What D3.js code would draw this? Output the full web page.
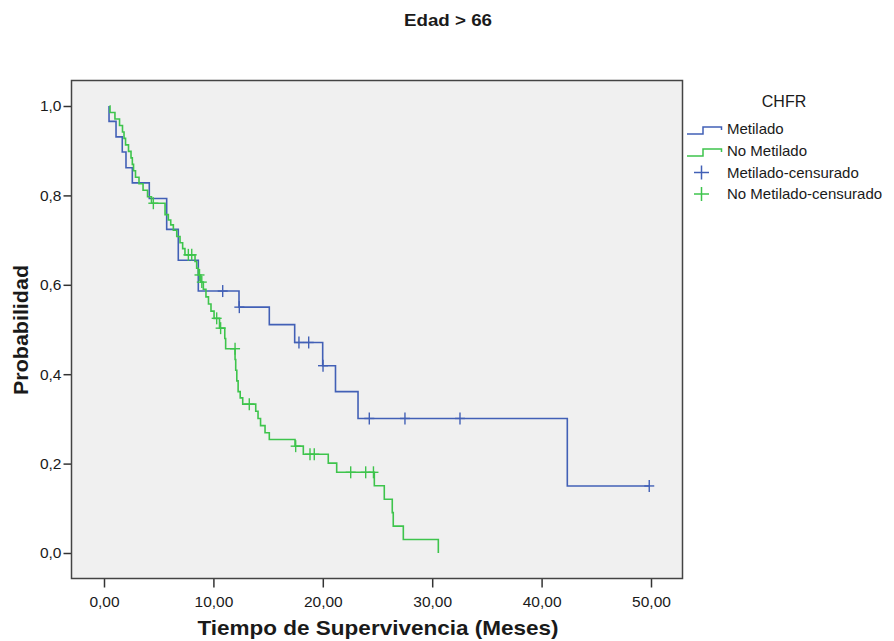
<!DOCTYPE html>
<html>
<head>
<meta charset="utf-8">
<script src="https://cdn.jsdelivr.net/npm/d3@7/dist/d3.min.js"></script>
<style>
  html, body { margin: 0; padding: 0; background: #ffffff; }
  svg { display: block; }
  text { font-family: "Liberation Sans", Arial, sans-serif; fill: #1a1a1a; }
</style>
</head>
<body>
<svg id="chart" width="894" height="641"></svg>
<script>
// ---------------- Data ----------------
const title = "Edad > 66";
const xLabel = "Tiempo de Supervivencia (Meses)";
const yLabel = "Probabilidad";
const legendTitle = "CHFR";
const groups = ["Metilado", "No Metilado"];
const legendLabels = ["Metilado", "No Metilado", "Metilado-censurado", "No Metilado-censurado"];

const xTicks = [0, 10, 20, 30, 40, 50];
const xTickLabels = ["0,00", "10,00", "20,00", "30,00", "40,00", "50,00"];
const yTicks = [0, 0.2, 0.4, 0.6, 0.8, 1.0];
const yTickLabels = ["0,0", "0,2", "0,4", "0,6", "0,8", "1,0"];

// Metilado: step times and survival after each step
const metStart = 0.46;
const metTimes = [0.46, 1.10, 1.67, 2.01, 2.59, 4.14, 5.73, 6.79, 8.62, 12.34, 15.11, 17.43, 19.99, 21.16, 23.22, 42.35];
const metSurv  = [0.9655, 0.931, 0.897, 0.862, 0.828, 0.793, 0.724, 0.655, 0.586, 0.550, 0.511, 0.471, 0.419, 0.361, 0.301, 0.150];
const metEnd = 49.84;
const metCensTimes = [10.85, 12.37, 17.82, 18.71, 20.02, 24.25, 27.51, 32.54, 49.84];
const metCensSurv  = [0.586, 0.550, 0.471, 0.471, 0.419, 0.301, 0.301, 0.301, 0.150];

// No Metilado
const noStart = 0.50;
const noTimes = [0.55, 1.00, 1.42, 1.69, 1.83, 1.97, 2.24, 2.47, 2.59, 2.70, 2.88, 3.20, 3.57, 3.98, 4.34,
                 5.58, 5.88, 6.10, 6.34, 6.65, 6.95, 7.19, 7.40,
                 8.32, 8.47, 8.62, 8.85, 9.08, 9.32, 9.55, 9.78, 10.06, 10.56,
                 11.04, 11.12, 11.98, 12.04, 12.14, 12.26, 12.45, 12.68,
                 13.87, 14.08, 14.31, 14.72, 15.11, 17.46, 18.22, 20.50, 21.27,
                 24.71, 25.62, 26.35, 26.44, 27.36, 30.56];
const noSurv  = [0.9855, 0.971, 0.9565, 0.942, 0.9275, 0.913, 0.8985, 0.884, 0.8695, 0.855, 0.8405, 0.826, 0.8115, 0.797, 0.7825,
                 0.757, 0.745, 0.734, 0.722, 0.708, 0.694, 0.681, 0.667,
                 0.652, 0.637, 0.622, 0.606, 0.590, 0.573, 0.557, 0.541, 0.525, 0.503,
                 0.480, 0.457, 0.433, 0.409, 0.385, 0.361, 0.347, 0.333,
                 0.317, 0.301, 0.285, 0.269, 0.254, 0.239, 0.221, 0.201, 0.1805,
                 0.1505, 0.1204, 0.0903, 0.0602, 0.0301, 0.0];
const noCensTimes = [4.51, 7.71, 8.02, 8.73, 8.94, 10.30, 10.66, 11.98, 13.28, 17.52, 18.83, 19.22, 22.55, 23.92, 24.63];
const noCensSurv  = [0.7825, 0.667, 0.667, 0.622, 0.606, 0.525, 0.503, 0.457, 0.333, 0.239, 0.221, 0.221, 0.1805, 0.1805, 0.1805];

const colors = ["#4260b6", "#3ec44c"];

// ---------------- Layout ----------------
const svg = d3.select("#chart");
const frame = { left: 71.5, right: 682.5, top: 80.5, bottom: 578.5 };

const x = d3.scaleLinear().domain([0, 50]).range([104, 651]);
const y = d3.scaleLinear().domain([0, 1]).range([553, 106]);

// plot background
svg.append("rect")
  .attr("x", frame.left).attr("y", frame.top)
  .attr("width", frame.right - frame.left).attr("height", frame.bottom - frame.top)
  .attr("fill", "#f0f0f0").attr("stroke", "none");

// axes
const yAxis = d3.axisLeft(y).tickValues(yTicks).tickSize(8).tickSizeOuter(0)
  .tickFormat((d, i) => yTickLabels[i]);
const gy = svg.append("g").attr("transform", `translate(${frame.left},0)`).call(yAxis);
gy.select(".domain").remove();
gy.selectAll(".tick line").attr("stroke", "#333").attr("stroke-width", 1.5);
gy.selectAll(".tick text").attr("x", -10).attr("font-size", 15.5).attr("fill", "#1a1a1a")
  .style("font-family", "'Liberation Sans', Arial, sans-serif");

const xAxis = d3.axisBottom(x).tickValues(xTicks).tickSize(9).tickSizeOuter(0)
  .tickFormat((d, i) => xTickLabels[i]);
const gx = svg.append("g").attr("transform", `translate(0,${frame.bottom})`).call(xAxis);
gx.select(".domain").remove();
gx.selectAll(".tick line").attr("stroke", "#333").attr("stroke-width", 1.5);
gx.selectAll(".tick text").attr("y", 17).attr("font-size", 15.5).attr("fill", "#1a1a1a")
  .style("font-family", "'Liberation Sans', Arial, sans-serif");

// frame border
svg.append("rect")
  .attr("x", frame.left).attr("y", frame.top)
  .attr("width", frame.right - frame.left).attr("height", frame.bottom - frame.top)
  .attr("fill", "none").attr("stroke", "#444").attr("stroke-width", 1.5);

// curves
const line = d3.line().x(d => x(d[0])).y(d => y(d[1])).curve(d3.curveStepAfter);

function buildPts(start, times, surv, end) {
  const pts = [[start, 1]];
  times.forEach((t, i) => pts.push([t, surv[i]]));
  if (end !== undefined && end > times[times.length - 1]) pts.push([end, surv[surv.length - 1]]);
  return pts;
}
const series = [
  { pts: buildPts(metStart, metTimes, metSurv, metEnd), ct: metCensTimes, cs: metCensSurv, color: colors[0] },
  { pts: buildPts(noStart, noTimes, noSurv), ct: noCensTimes, cs: noCensSurv, color: colors[1] }
];

series.forEach(s => {
  svg.append("path").attr("d", line(s.pts))
    .attr("fill", "none").attr("stroke", s.color).attr("stroke-width", 1.6);
});
const cross = 5;
series.forEach(s => {
  const g = svg.append("g");
  s.ct.forEach((t, i) => {
    const cx = x(t), cy = y(s.cs[i]);
    g.append("line").attr("x1", cx - cross).attr("x2", cx + cross).attr("y1", cy).attr("y2", cy)
      .attr("stroke", s.color).attr("stroke-width", 1.4);
    g.append("line").attr("x1", cx).attr("x2", cx).attr("y1", cy - 6).attr("y2", cy + 6)
      .attr("stroke", s.color).attr("stroke-width", 1.4);
  });
});

// titles
svg.append("text").attr("x", 448).attr("y", 26).attr("text-anchor", "middle")
  .attr("font-size", 17).attr("font-weight", "bold")
  .attr("textLength", 88).attr("lengthAdjust", "spacingAndGlyphs").text(title);
svg.append("text").attr("x", 378).attr("y", 635).attr("text-anchor", "middle")
  .attr("font-size", 21).attr("font-weight", "bold")
  .attr("textLength", 361).attr("lengthAdjust", "spacingAndGlyphs").text(xLabel);
svg.append("text").attr("transform", "translate(28,330) rotate(-90)").attr("text-anchor", "middle")
  .attr("font-size", 20).attr("font-weight", "bold")
  .attr("textLength", 130).attr("lengthAdjust", "spacingAndGlyphs").text(yLabel);

// legend
const lg = svg.append("g");
lg.append("text").attr("x", 784).attr("y", 107).attr("text-anchor", "middle")
  .attr("font-size", 16).text(legendTitle);
const rowY = [129, 151, 172.5, 194];
[0, 1].forEach(i => {
  const yy = rowY[i];
  lg.append("path")
    .attr("d", `M687,${yy + 5}H703V${yy - 2}H721.5V${yy + 1}`)
    .attr("fill", "none").attr("stroke", colors[i]).attr("stroke-width", 1.5);
});
[2, 3].forEach(i => {
  const yy = rowY[i], c = colors[i - 2];
  lg.append("line").attr("x1", 694).attr("x2", 709).attr("y1", yy).attr("y2", yy).attr("stroke", c).attr("stroke-width", 1.5);
  lg.append("line").attr("x1", 701.5).attr("x2", 701.5).attr("y1", yy - 7).attr("y2", yy + 7).attr("stroke", c).attr("stroke-width", 1.5);
});
legendLabels.forEach((l, i) => {
  lg.append("text").attr("x", 727).attr("y", rowY[i] + 5).attr("font-size", 15).text(l);
});
</script>
</body>
</html>
